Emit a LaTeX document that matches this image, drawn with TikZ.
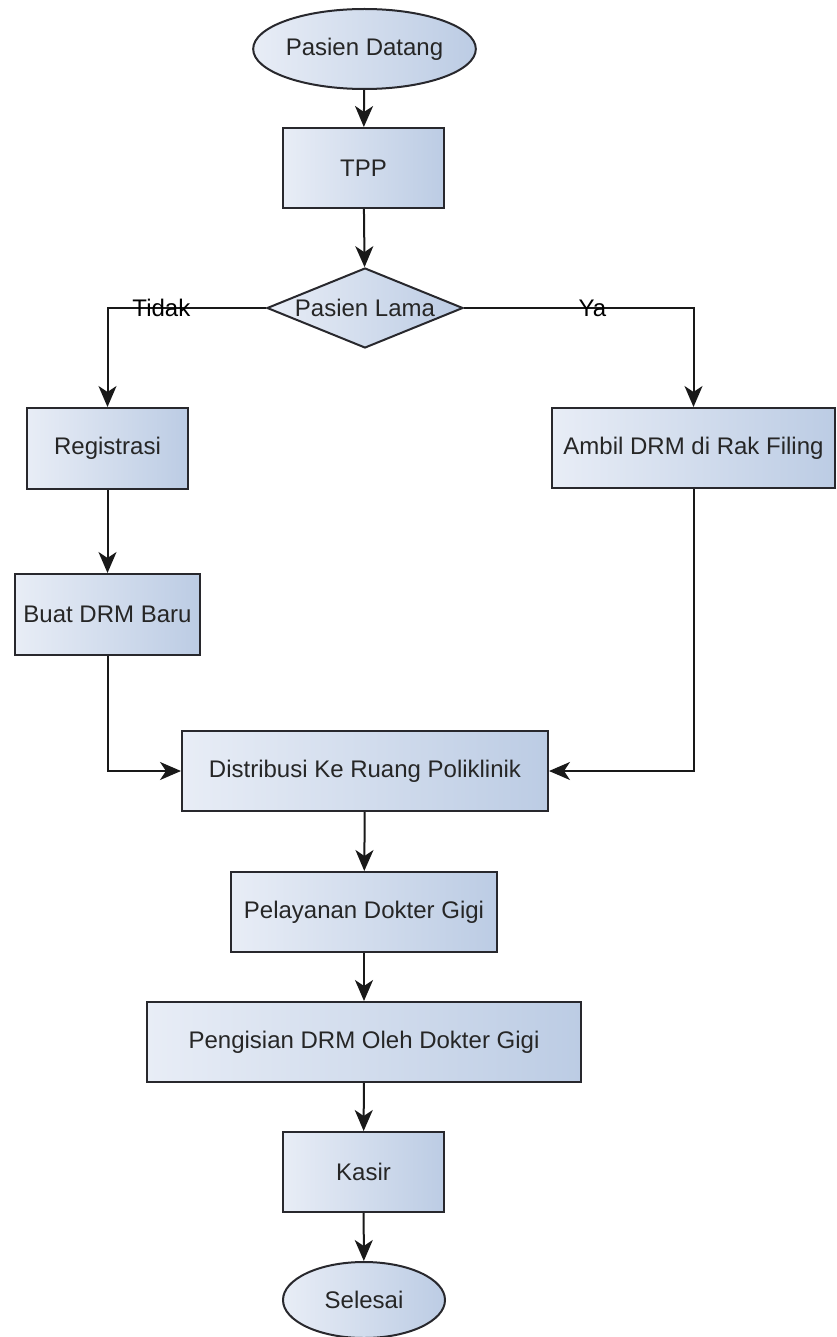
\documentclass[tikz,border=0pt]{standalone}
\usepackage{fontspec}
\setmainfont{Liberation Sans}
\usepackage{tikz}
\usetikzlibrary{arrows.meta,shapes.geometric}

\definecolor{boxleft}{RGB}{232,237,246}
\definecolor{boxright}{RGB}{188,204,228}
\definecolor{boxline}{RGB}{40,40,45}

\begin{document}
\begin{tikzpicture}[x=1pt,y=-1pt,>={Stealth[length=21pt,width=18pt,inset=6pt]},
  font=\fontsize{24}{28}\selectfont]
  \tikzstyle{base}=[draw=boxline,line width=2pt,left color=boxleft,
  			  right color=boxright,text=black!85,inner sep=0pt]
  \tikzstyle{process}=[base,rectangle,minimum height=80pt]
  \tikzstyle{terminal}=[base,ellipse]
  \tikzstyle{decision}=[base,diamond,aspect=2.45,minimum width=196pt,minimum height=80pt]
  \tikzstyle{flow}=[->,line width=2pt,draw=black!90]

  \useasboundingbox (0,0) rectangle (836,1337);

  \node [terminal,minimum width=199pt,minimum height=80pt] (datang) at (364.5,49) {Pasien Datang};
  \node [process,minimum width=161pt] (tpp) at (363.5,168) {TPP};
  \node [decision] (lama) at (365,308) {Pasien Lama};
  \node [process,minimum width=161pt,minimum height=81pt] (registrasi) at (107.5,448.5) {Registrasi};
  \node [process,minimum width=185pt,minimum height=81pt] (buatdrm) at (107.5,614.5) {Buat DRM Baru};
  \node [process,minimum width=283pt] (ambildrm) at (693.5,448) {Ambil DRM di Rak Filing};
  \node [process,minimum width=366pt] (distribusi) at (365,771) {Distribusi Ke Ruang Poliklinik};
  \node [process,minimum width=266pt] (pelayanan) at (364,912) {Pelayanan Dokter Gigi};
  \node [process,minimum width=434pt] (pengisian) at (364,1042) {Pengisian DRM Oleh Dokter Gigi};
  \node [process,minimum width=161pt] (kasir) at (363.5,1172) {Kasir};
  \node [terminal,minimum width=162pt,minimum height=76pt] (selesai) at (364,1300) {Selesai};

  \draw [flow] (datang) -- (tpp);
  \draw [flow] (tpp) -- (lama);
  \draw [flow] (lama.west) -| node[pos=0.33] {Tidak} (registrasi.north);
  \draw [flow] (lama.east) -| node[pos=0.28] {Ya} (ambildrm.north);
  \draw [flow] (registrasi) -- (buatdrm);
  \draw [flow] (buatdrm.south) |- (distribusi.west);
  \draw [flow] (ambildrm.south) |- (distribusi.east);
  \draw [flow] (distribusi) -- (pelayanan);
  \draw [flow] (pelayanan) -- (pengisian);
  \draw [flow] (pengisian) -- (kasir);
  \draw [flow] (kasir) -- (selesai);

\end{tikzpicture}
\end{document}
